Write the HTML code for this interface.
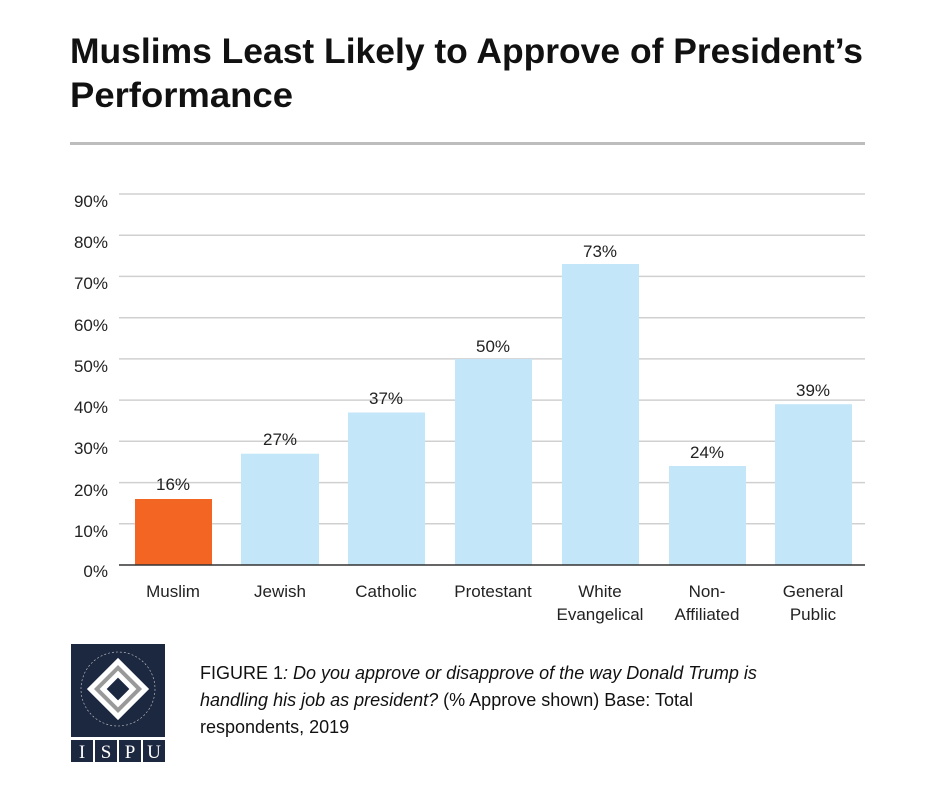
<!DOCTYPE html>
<html><head><style>
body{margin:0;background:#fff;}
svg text{font-family:"Liberation Sans",sans-serif;}
</style></head><body>
<svg width="941" height="789" xmlns="http://www.w3.org/2000/svg">
<text x="70" y="63" font-size="35" font-weight="bold" fill="#111" textLength="793" lengthAdjust="spacingAndGlyphs">Muslims Least Likely to Approve of President’s</text>
<text x="70" y="107" font-size="35" font-weight="bold" fill="#111" textLength="223" lengthAdjust="spacingAndGlyphs">Performance</text>
<rect x="70" y="142" width="795" height="3" fill="#bdbdbd"/>
<g stroke="#d0d0d0" stroke-width="1.5">
<line x1="119" x2="865" y1="194" y2="194"/><line x1="119" x2="865" y1="235.2" y2="235.2"/>
<line x1="119" x2="865" y1="276.4" y2="276.4"/><line x1="119" x2="865" y1="317.7" y2="317.7"/>
<line x1="119" x2="865" y1="358.9" y2="358.9"/><line x1="119" x2="865" y1="400.1" y2="400.1"/>
<line x1="119" x2="865" y1="441.3" y2="441.3"/><line x1="119" x2="865" y1="482.6" y2="482.6"/>
<line x1="119" x2="865" y1="523.8" y2="523.8"/>
</g>
<g font-size="17" fill="#222" text-anchor="end">
<text x="108" y="207">90%</text><text x="108" y="248">80%</text><text x="108" y="289">70%</text>
<text x="108" y="331">60%</text><text x="108" y="372">50%</text><text x="108" y="413">40%</text>
<text x="108" y="454">30%</text><text x="108" y="496">20%</text><text x="108" y="537">10%</text>
<text x="108" y="577">0%</text>
</g>
<rect x="135" y="499" width="77" height="66" fill="#f26522"/>
<g fill="#c3e6f8">
<rect x="241" y="453.7" width="78" height="111.3"/>
<rect x="348" y="412.5" width="77" height="152.5"/>
<rect x="455" y="359" width="77" height="206"/>
<rect x="562" y="264" width="77" height="301"/>
<rect x="669" y="466" width="77" height="99"/>
<rect x="775" y="404.2" width="77" height="160.8"/>
</g>
<line x1="119" x2="865" y1="565" y2="565" stroke="#333" stroke-width="1.5"/>
<g font-size="17" fill="#222" text-anchor="middle">
<text x="173" y="490">16%</text><text x="280" y="445">27%</text><text x="386" y="404">37%</text>
<text x="493" y="352">50%</text><text x="600" y="257">73%</text><text x="707" y="458">24%</text>
<text x="813" y="396">39%</text>
<text x="173" y="597">Muslim</text><text x="280" y="597">Jewish</text><text x="386" y="597">Catholic</text>
<text x="493" y="597">Protestant</text><text x="600" y="597">White</text><text x="600" y="620">Evangelical</text>
<text x="707" y="597">Non-</text><text x="707" y="620">Affiliated</text>
<text x="813" y="597">General</text><text x="813" y="620">Public</text>
</g>
<rect x="71" y="644" width="94" height="93" fill="#1c2740"/>
<g transform="translate(118,689)">
<rect x="-22" y="-22" width="44" height="44" transform="rotate(45)" fill="#fff"/>
<rect x="-17" y="-17" width="34" height="34" transform="rotate(45)" fill="#999"/>
<rect x="-13" y="-13" width="26" height="26" transform="rotate(45)" fill="#fff"/>
<rect x="-8" y="-8" width="16" height="16" transform="rotate(45)" fill="#1c2740"/>
<circle r="37" fill="none" stroke="#ccc" stroke-width="0.6" stroke-dasharray="2 2"/>
</g>
<g fill="#1c2740">
<rect x="71" y="740" width="22" height="22"/><rect x="95" y="740" width="22" height="22"/>
<rect x="119" y="740" width="22" height="22"/><rect x="143" y="740" width="22" height="22"/>
</g>
<g font-size="19" fill="#fff" text-anchor="middle">
<text x="82" y="758" style="font-family:'Liberation Serif',serif">I</text>
<text x="106" y="758" style="font-family:'Liberation Serif',serif">S</text>
<text x="130" y="758" style="font-family:'Liberation Serif',serif">P</text>
<text x="154" y="758" style="font-family:'Liberation Serif',serif">U</text>
</g>
<g font-size="18" fill="#111">
<text x="200" y="679">FIGURE 1<tspan font-style="italic">: Do you approve or disapprove of the way Donald Trump is</tspan></text>
<text x="200" y="706"><tspan font-style="italic">handling his job as president?</tspan> (% Approve shown) Base: Total</text>
<text x="200" y="733">respondents, 2019</text>
</g>
</svg>
</body></html>
